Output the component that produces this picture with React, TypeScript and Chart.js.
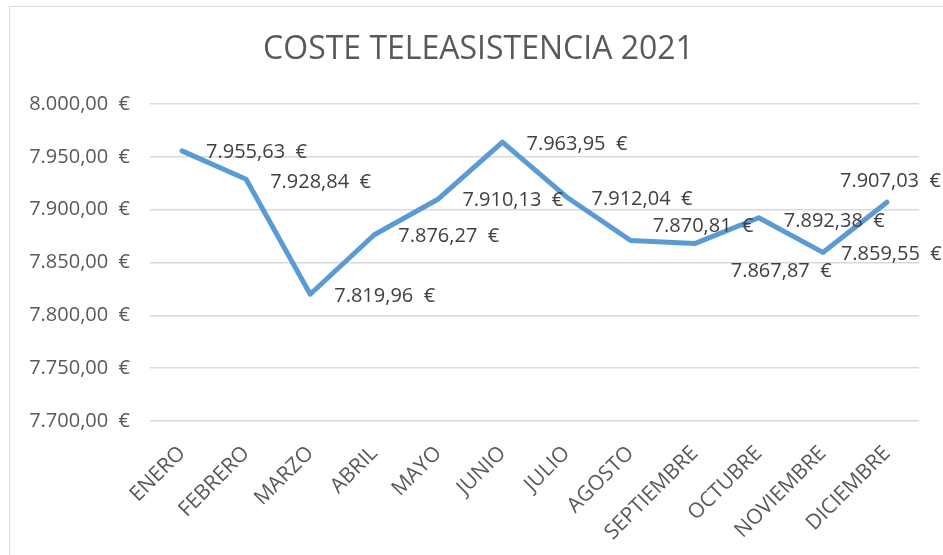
import React, { useEffect, useRef } from "react";
import { Chart, registerables } from "chart.js";

Chart.register(...registerables);

// ---- data ----
const chartTitle = "COSTE TELEASISTENCIA 2021";
const months = [
  "ENERO",
  "FEBRERO",
  "MARZO",
  "ABRIL",
  "MAYO",
  "JUNIO",
  "JULIO",
  "AGOSTO",
  "SEPTIEMBRE",
  "OCTUBRE",
  "NOVIEMBRE",
  "DICIEMBRE",
];
const costs = [
  7955.63, 7928.84, 7819.96, 7876.27, 7910.13, 7963.95, 7912.04, 7870.81,
  7867.87, 7892.38, 7859.55, 7907.03,
];
const yMin = 7700;
const yMax = 8000;
const yStep = 50;

// ---- styling (label placement offsets, like Excel's manually moved labels) ----
const labelOffsets: [number, number][] = [
  [24, 1],
  [24, 3],
  [24, 2],
  [24, 2],
  [24, 1],
  [24, 2],
  [25, 2],
  [22, -14],
  [36, 28],
  [25, 4],
  [18, 2],
  [-47, -21],
];

const FONT = "'Open Sans', 'DejaVu Sans', sans-serif";

const fmtEuro = (v: number) => {
  const [i, d] = v.toFixed(2).split(".");
  return i.replace(/\B(?=(\d{3})+(?!\d))/g, ".") + "," + d + "  €";
};

const framePlugin = {
  id: "frame",
  beforeDraw(chart: any) {
    const ctx = chart.ctx;
    ctx.save();
    ctx.fillStyle = "#ffffff";
    ctx.fillRect(0, 0, chart.width, chart.height);
    ctx.strokeStyle = "#d9d9d9";
    ctx.lineWidth = 1;
    ctx.strokeRect(9.5, 6.5, 960, 600);
    ctx.restore();
  },
  afterDraw(chart: any) {
    const ctx = chart.ctx;
    ctx.save();
    ctx.fillStyle = "#595959";
    ctx.font = `32px ${FONT}`;
    ctx.textAlign = "center";
    ctx.textBaseline = "middle";
    ctx.fillText(chartTitle, 478.5, 50);
    ctx.restore();
  },
};

const labelPlugin = {
  id: "valueLabels",
  afterDatasetsDraw(chart: any) {
    const ctx = chart.ctx;
    const meta = chart.getDatasetMeta(0);
    ctx.save();
    ctx.fillStyle = "#404040";
    ctx.font = `20px ${FONT}`;
    ctx.textAlign = "left";
    ctx.textBaseline = "middle";
    meta.data.forEach((pt: any, i: number) => {
      const [dx, dy] = labelOffsets[i] || [24, 2];
      ctx.fillText(fmtEuro(costs[i]), pt.x + dx, pt.y + dy);
    });
    ctx.restore();
  },
};

export default function App() {
  const ref = useRef<HTMLCanvasElement | null>(null);

  useEffect(() => {
    if (!ref.current) return;
    const chart = new Chart(ref.current, {
      type: "line",
      data: {
        labels: months,
        datasets: [
          {
            data: costs,
            borderColor: "#5B9BD5",
            backgroundColor: "#5B9BD5",
            borderWidth: 5,
            pointRadius: 0,
            pointHoverRadius: 0,
            tension: 0,
            borderJoinStyle: "round",
            borderCapStyle: "round",
            fill: false,
          },
        ],
      },
      options: {
        responsive: false,
        animation: false,
        devicePixelRatio: 1,
        layout: { padding: { top: 104, right: 24, bottom: 0, left: 0 } },
        plugins: {
          legend: { display: false },
          title: { display: false },
          tooltip: { enabled: false },
        },
        scales: {
          x: {
            offset: true,
            grid: { display: false, drawTicks: false },
            border: { display: false },
            ticks: {
              autoSkip: false,
              maxRotation: 45,
              minRotation: 45,
              padding: 20,
              color: "#595959",
              font: { family: FONT, size: 21 },
            },
            afterFit(scale: any) {
              scale.height = 134;
            },
          },
          y: {
            min: yMin,
            max: yMax,
            grid: { color: "#d9d9d9", lineWidth: 1.5, drawTicks: false },
            border: { display: false },
            ticks: {
              stepSize: yStep,
              padding: 20,
              color: "#595959",
              font: { family: FONT, size: 20 },
              callback: (v: any) => fmtEuro(Number(v)),
            },
            afterFit(scale: any) {
              scale.width = 150;
            },
          },
        },
      },
      plugins: [framePlugin, labelPlugin],
    });
    return () => chart.destroy();
  }, []);

  return (
    <div
      style={{
        position: "absolute",
        left: 0,
        top: 0,
        width: 943,
        height: 555,
        background: "#fff",
      }}
    >
      <canvas ref={ref} width={943} height={555} style={{ width: 943, height: 555 }} />
    </div>
  );
}
